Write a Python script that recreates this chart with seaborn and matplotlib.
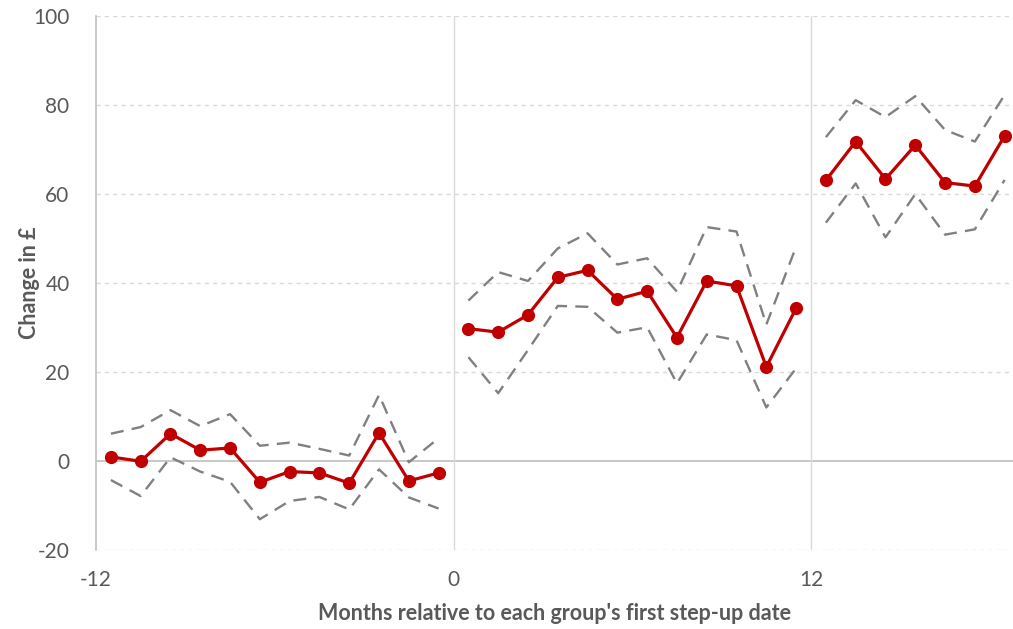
import matplotlib
matplotlib.use("Agg")
import matplotlib.pyplot as plt
import seaborn as sns
import pandas as pd

# Monthly change in £ with 95% confidence bounds, in three segments
months_pre = [-11.5, -10.5, -9.5, -8.5, -7.5, -6.5, -5.5, -4.5, -3.5, -2.5, -1.5, -0.5]
est_pre = [1.0, 0.0, 6.2, 2.5, 3.0, -4.7, -2.3, -2.6, -4.9, 6.4, -4.4, -2.6]
upper_pre = [6.2, 7.7, 11.5, 7.9, 10.6, 3.5, 4.2, 2.8, 1.3, 14.9, -0.2, 5.2]
lower_pre = [-4.2, -7.8, 0.9, -2.3, -4.6, -13.0, -8.9, -8.0, -10.8, -1.8, -8.1, -10.6]

months_first = [0.5, 1.5, 2.5, 3.5, 4.5, 5.5, 6.5, 7.5, 8.5, 9.5, 10.5, 11.5]
est_first = [29.8, 29.0, 32.9, 41.3, 42.9, 36.4, 38.2, 27.8, 40.5, 39.4, 21.2, 34.4]
upper_first = [36.1, 42.5, 40.5, 47.8, 51.2, 44.2, 45.6, 38.1, 52.6, 51.6, 30.7, 48.2]
lower_first = [23.4, 15.3, 25.0, 34.9, 34.7, 28.9, 30.1, 17.5, 28.5, 27.2, 12.1, 20.9]

months_second = [12.5, 13.5, 14.5, 15.5, 16.5, 17.5, 18.5]
est_second = [63.1, 71.8, 63.4, 71.0, 62.6, 61.8, 73.1]
upper_second = [72.8, 81.1, 77.3, 82.0, 74.4, 71.8, 82.3]
lower_second = [53.6, 62.4, 50.3, 60.0, 50.9, 52.1, 63.2]

x_ticks = [-12, 0, 12]
y_ticks = [-20, 0, 20, 40, 60, 80, 100]

segments = [
    (months_pre, est_pre, upper_pre, lower_pre),
    (months_first, est_first, upper_first, lower_first),
    (months_second, est_second, upper_second, lower_second),
]

sns.set_theme(style="white")
plt.rcParams["font.family"] = ["Lato", "DejaVu Sans"]
plt.rcParams["axes.unicode_minus"] = False

RED = "#C00000"
GREY = "#808080"
TEXT = "#595959"

fig = plt.figure(figsize=(10.13, 6.29), dpi=100)
ax = fig.add_axes([96 / 1013, 1 - 550.4 / 629, 1 - 96 / 1013, (550.4 - 16) / 629])

# Gridlines and reference lines
for y in y_ticks:
    if y == 0:
        ax.axhline(y, color="#BFBFBF", lw=1.2, zorder=1)
    else:
        ax.axhline(y, color="#D9D9D9", lw=1.0, ls=(0, (3, 3)), zorder=1)
for x in x_ticks[1:]:
    ax.axvline(x, color="#D9D9D9", lw=1.0, zorder=1)

# Each period is drawn separately so the lines break at 0 and 12
for months, est, up, lo in segments:
    df = pd.DataFrame({"month": months, "est": est, "upper": up, "lower": lo})
    for col in ("upper", "lower"):
        line = sns.lineplot(data=df, x="month", y=col, ax=ax, color=GREY,
                            lw=1.7, zorder=2)
        line.lines[-1].set_dashes((5.5, 3.5))
    sns.lineplot(data=df, x="month", y="est", ax=ax, color=RED, lw=2.3,
                 marker="o", markersize=9.5, markeredgewidth=0, zorder=3)

ax.set_xlim(-12, 18.78)
ax.set_ylim(-20, 100)
ax.set_xticks(x_ticks)
ax.set_yticks(y_ticks)
ax.tick_params(axis="both", length=0, labelsize=15, labelcolor=TEXT)
ax.tick_params(axis="x", pad=14)
ax.tick_params(axis="y", pad=19)

for side in ("top", "right", "bottom"):
    ax.spines[side].set_visible(False)
ax.spines["left"].set_color("#BFBFBF")
ax.spines["left"].set_linewidth(1.2)

ax.set_xlabel("Months relative to each group's first step-up date",
              fontsize=15.5, fontweight="bold", color=TEXT)
ax.xaxis.set_label_coords(0.5, -0.098)
ax.set_ylabel("Change in £", fontsize=15.5, fontweight="bold", color=TEXT)
ax.yaxis.set_label_coords(-0.061, 0.5)
ax.grid(False)

fig.savefig("out.png", dpi=100)
